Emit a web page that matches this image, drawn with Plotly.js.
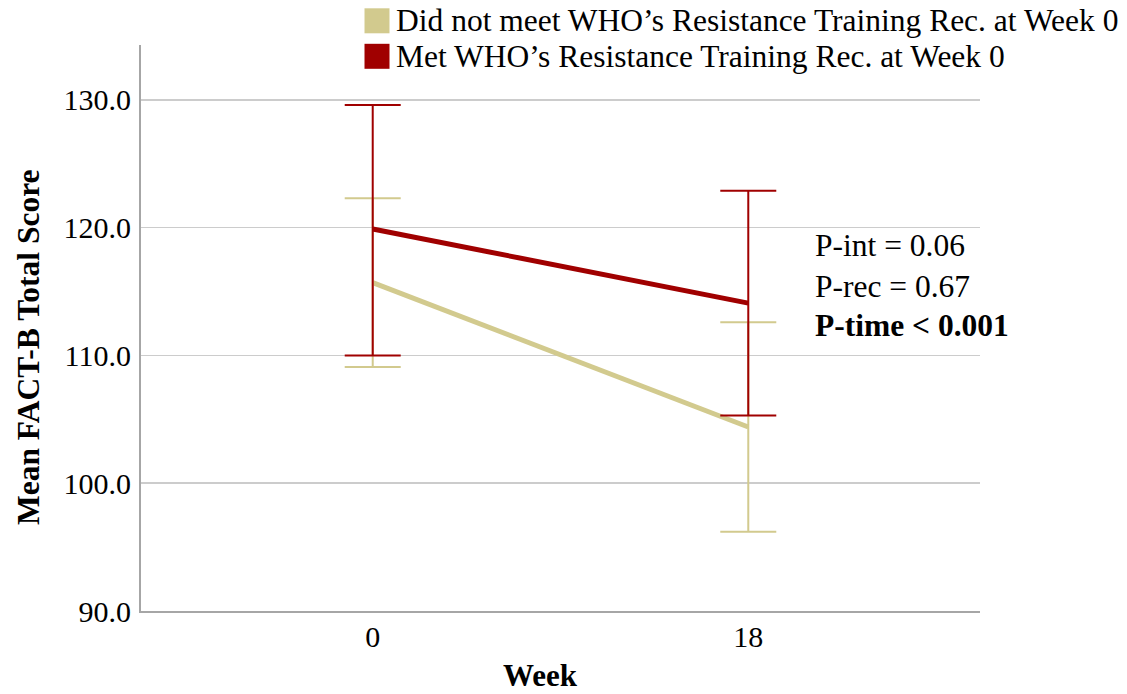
<!DOCTYPE html>
<html>
<head>
<meta charset="utf-8">
<script src="https://cdn.plot.ly/plotly-3.0.1.min.js"></script>
<style>
  html, body { margin: 0; padding: 0; background: #ffffff; }
  #chart { width: 1127px; height: 694px; }
</style>
</head>
<body>
<div id="chart"></div>
<script>
// Mean FACT-B total score by week, with 95% CI bounds, for each group
const weeks = ['0', '18'];
const groupNames = [
  'Did not meet WHO’s Resistance Training Rec. at Week 0',
  'Met WHO’s Resistance Training Rec. at Week 0'
];
const notMetMean  = [115.7, 104.4];
const notMetLower = [109.1, 96.2];
const notMetUpper = [122.3, 112.6];
const metMean  = [119.9, 114.1];
const metLower = [110.0, 105.3];
const metUpper = [129.6, 122.9];
const yTickValues = [90, 100, 110, 120, 130];
const yTickLabels = ['90.0', '100.0', '110.0', '120.0', '130.0'];
const pValueLines = ['P-int = 0.06', 'P-rec = 0.67', '<b>P-time &lt; 0.001</b>'];
const xTitle = 'Week';
const yTitle = 'Mean FACT-B Total Score';

const FONT = '"Liberation Serif", "Times New Roman", serif';
const TAN = '#d2ca8e';
const RED = '#a00000';

// page geometry of the plotting area
const W = 1127, H = 694;
const M = { l: 141, r: 147, t: 45, b: 83 };
const plotW = W - M.l - M.r, plotH = H - M.t - M.b;
const px = x => (x - M.l) / plotW;      // page x -> paper x
const py = y => (H - M.b - y) / plotH;  // page y -> paper y

function ciTrace(means, lower, upper, color, name) {
  return {
    type: 'scatter',
    mode: 'lines',
    name: name,
    x: weeks,
    y: means,
    line: { color: color, width: 5 },
    error_y: {
      type: 'data',
      symmetric: false,
      array: means.map((m, i) => upper[i] - m),
      arrayminus: means.map((m, i) => m - lower[i]),
      color: color,
      thickness: 2,
      width: 28
    },
    hoverinfo: 'skip'
  };
}

const traces = [
  ciTrace(notMetMean, notMetLower, notMetUpper, TAN, groupNames[0]),
  ciTrace(metMean, metLower, metUpper, RED, groupNames[1])
];

const swatchColors = [TAN, RED];
const legendRowsY = [20.8, 56.3];
const shapes = legendRowsY.map((cy, i) => ({
  type: 'rect', xref: 'paper', yref: 'paper',
  x0: px(364.5), x1: px(389.5), y0: py(cy + 12.5), y1: py(cy - 12.5),
  fillcolor: swatchColors[i], line: { width: 0 }
}));

const annotations = [];
legendRowsY.forEach((cy, i) => {
  annotations.push({
    xref: 'paper', yref: 'paper', x: px(394), y: py(cy),
    xanchor: 'left', yanchor: 'middle', showarrow: false,
    text: groupNames[i], font: { family: FONT, size: 31.5, color: '#000' }
  });
});
const pRowsY = [246, 286, 325];
pValueLines.forEach((t, i) => {
  annotations.push({
    xref: 'paper', yref: 'paper', x: px(813), y: py(pRowsY[i]),
    xanchor: 'left', yanchor: 'middle', showarrow: false,
    text: t, font: { family: FONT, size: 31.5, color: '#000' }
  });
});
annotations.push({
  xref: 'paper', yref: 'paper', x: px(540.5), y: py(675),
  xanchor: 'center', yanchor: 'middle', showarrow: false,
  text: '<b>' + xTitle + '</b>', font: { family: FONT, size: 31, color: '#000' }
});
annotations.push({
  xref: 'paper', yref: 'paper', x: px(28), y: py(347),
  xanchor: 'center', yanchor: 'middle', showarrow: false, textangle: -90,
  text: '<b>' + yTitle + '</b>', font: { family: FONT, size: 31.5, color: '#000' }
});

const layout = {
  width: W, height: H,
  margin: { l: M.l, r: M.r, t: M.t, b: M.b, autoexpand: false },
  paper_bgcolor: '#ffffff', plot_bgcolor: '#ffffff',
  showlegend: false,
  font: { family: FONT, size: 30, color: '#000' },
  xaxis: {
    type: 'category',
    range: [-0.617, 1.617],
    showgrid: false, zeroline: false,
    showline: true, linecolor: '#a6a6a6', linewidth: 2,
    ticks: '', ticklabelstandoff: -2,
    tickfont: { family: FONT, size: 30, color: '#000' }
  },
  yaxis: {
    range: [90, 134.3],
    tickvals: yTickValues, ticktext: yTickLabels,
    showgrid: true, gridcolor: '#cccccc', gridwidth: 1.5,
    zeroline: false,
    showline: true, linecolor: '#a6a6a6', linewidth: 2,
    ticks: '', ticklabelstandoff: 2,
    tickfont: { family: FONT, size: 30, color: '#000' }
  },
  shapes: shapes,
  annotations: annotations
};

Plotly.newPlot('chart', traces, layout, { displayModeBar: false, staticPlot: true });
</script>
</body>
</html>
